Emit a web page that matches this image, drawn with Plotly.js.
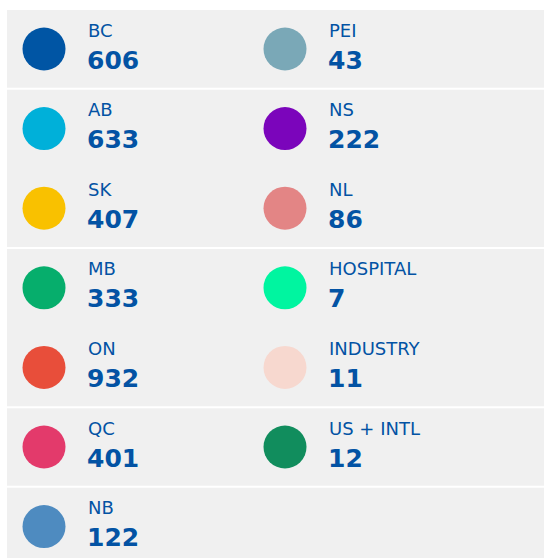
<!DOCTYPE html>
<html>
<head>
<meta charset="utf-8">
<script src="https://cdn.plot.ly/plotly-3.0.1.min.js"></script>
<style>html,body{margin:0;padding:0;background:#fff;}#chart{width:544px;height:558px;}</style>
</head>
<body>
<div id="chart"></div>
<script>
// Data
const regions = ["BC","AB","SK","MB","ON","QC","NB","PEI","NS","NL","HOSPITAL","INDUSTRY","US + INTL"];
const counts  = [606, 633, 407, 333, 932, 401, 122, 43, 222, 86, 7, 11, 12];
const colors  = ["#0055a4","#00b0d9","#f9c100","#06ae6c","#e84e3a","#e33a6b","#4e8bc0",
                 "#7aa8b7","#7b05bb","#e38585","#00f5a0","#f7d8cf","#118d5d"];
const rowsPerCol = 7;
const separatorsAfterRow = [0, 2, 4, 5];

const col = regions.map((_, i) => Math.floor(i / rowsPerCol));
const row = regions.map((_, i) => i % rowsPerCol);

const textBlue = "#0353a4";
const labelFont = {family: "DejaVu Sans", size: 18, color: textBlue};
const numFont = {family: "DejaVu Sans", size: 25, color: textBlue, weight: 700};

const annotations = [];
regions.forEach((r, i) => {
  annotations.push({x: col[i], y: row[i], xref: "x", yref: "y", text: r, showarrow: false,
    xanchor: "left", yanchor: "middle", xshift: 44, yshift: 19, font: labelFont, borderpad: 0, borderwidth: 0});
  annotations.push({x: col[i], y: row[i], xref: "x", yref: "y", text: "<b>" + counts[i] + "</b>", showarrow: false,
    xanchor: "left", yanchor: "middle", xshift: 43, yshift: -11, font: numFont, borderpad: 0, borderwidth: 0});
});

const shapes = [{type: "rect", xref: "paper", yref: "paper", x0: 7/544, x1: 1, y0: 0, y1: 1 - 10/558,
  fillcolor: "#f0f0f0", line: {width: 0}, layer: "below"}];
separatorsAfterRow.forEach(r => {
  shapes.push({type: "line", xref: "paper", yref: "y", x0: 7/544, x1: 1, y0: r + 0.5, y1: r + 0.5,
    line: {color: "#ffffff", width: 2}, layer: "below"});
});

const trace = {
  type: "scatter", mode: "markers", x: col, y: row,
  marker: {size: 43, color: colors, line: {width: 0}},
  hoverinfo: "skip", showlegend: false
};

const rowPx = 79.6, firstRowPx = 49, colPx = 241, firstColPx = 44;
const layout = {
  width: 544, height: 558,
  margin: {l: 0, r: 0, t: 0, b: 0},
  paper_bgcolor: "#ffffff", plot_bgcolor: "rgba(0,0,0,0)",
  xaxis: {range: [-firstColPx/colPx, (544-firstColPx)/colPx], visible: false, fixedrange: true},
  yaxis: {range: [(558-firstRowPx)/rowPx, -firstRowPx/rowPx], visible: false, fixedrange: true},
  shapes: shapes, annotations: annotations, showlegend: false
};
Plotly.newPlot("chart", [trace], layout, {displayModeBar: false, staticPlot: true});
</script>
</body>
</html>
